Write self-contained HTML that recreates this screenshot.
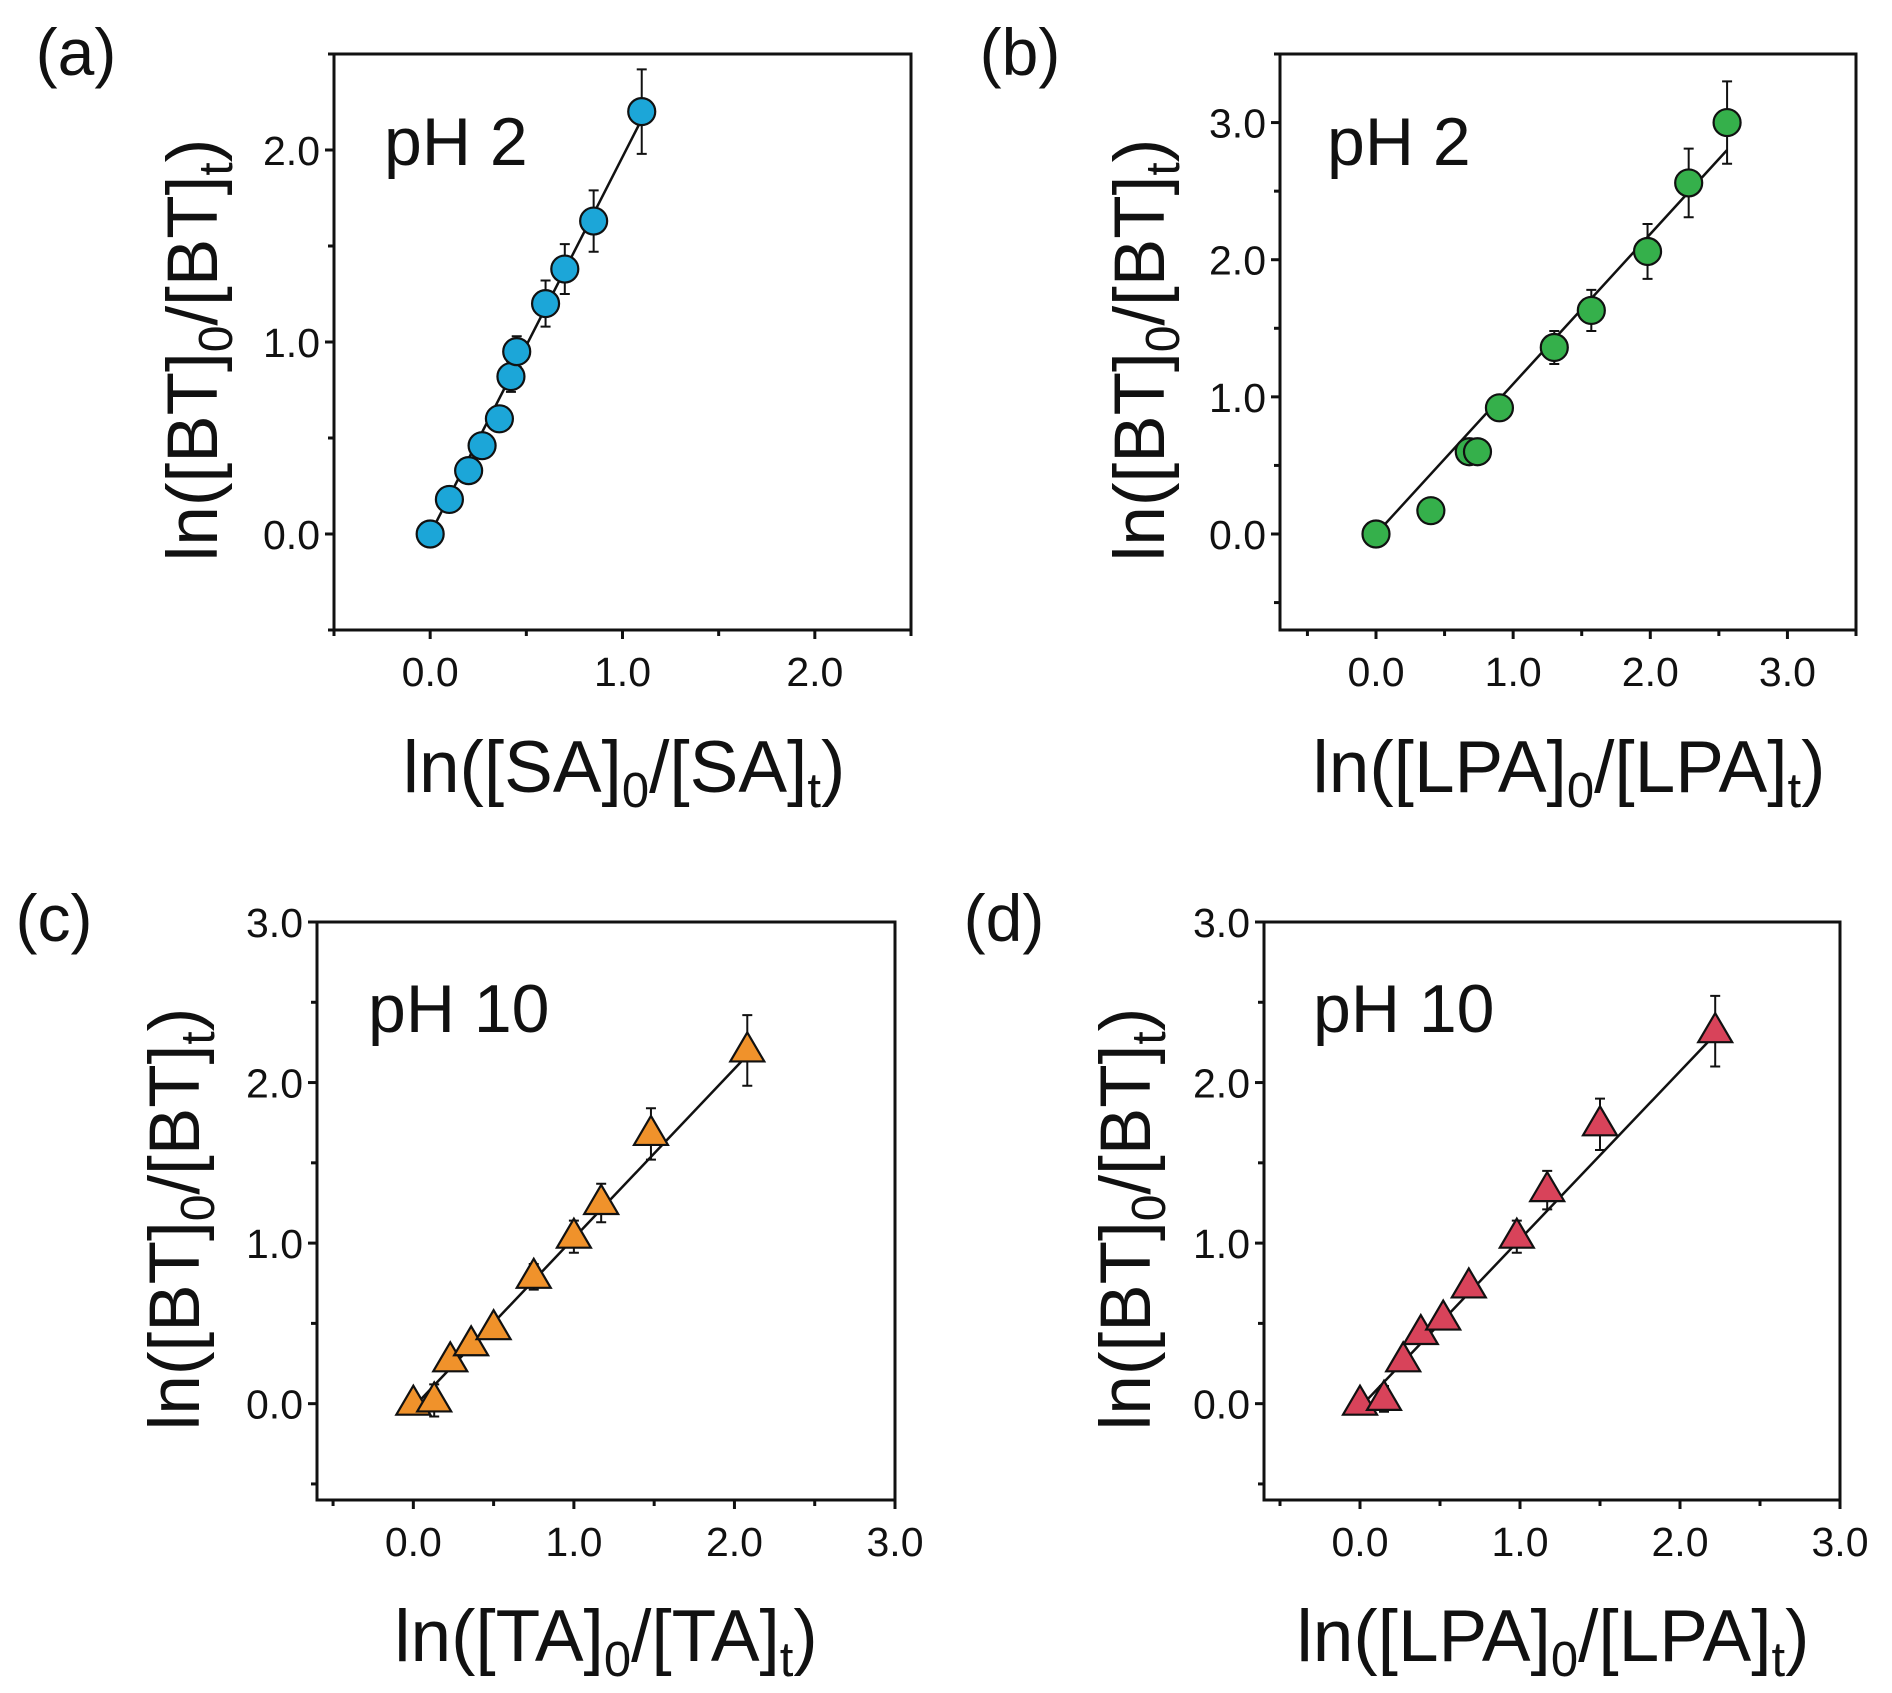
<!DOCTYPE html>
<html><head><meta charset="utf-8"><style>
html,body{margin:0;padding:0;background:#fff}
svg{display:block}
text{font-family:"Liberation Sans",sans-serif;fill:#111}
</style></head><body>
<svg id="fig" width="1892" height="1693" viewBox="0 0 1892 1693" xmlns="http://www.w3.org/2000/svg"></svg>
<script>
// Panel (a) data
const aX=[0,0.1,0.2,0.27,0.36,0.42,0.45,0.6,0.7,0.85,1.1];
const aY=[0,0.18,0.33,0.46,0.6,0.82,0.95,1.2,1.38,1.63,2.2];
const aE=[0.02,0.05,0.06,0.05,0.04,0.08,0.08,0.12,0.13,0.16,0.22];
const aFit=[0,1.1,0,2.16];
// Panel (b) data
const bX=[0,0.4,0.68,0.74,0.9,1.3,1.57,1.98,2.28,2.56];
const bY=[0,0.17,0.6,0.6,0.92,1.36,1.63,2.06,2.56,3.0];
const bE=[0.02,0.07,0.06,0.06,0.05,0.12,0.15,0.2,0.25,0.3];
const bFit=[0,2.56,0,2.8];
// Panel (c) data
const cX=[0,0.13,0.23,0.36,0.5,0.75,1.0,1.17,1.48,2.08];
const cY=[0,0.02,0.27,0.37,0.47,0.79,1.04,1.25,1.68,2.2];
const cE=[0.02,0.1,0.06,0.05,0.04,0.08,0.1,0.12,0.16,0.22];
const cFit=[0.05,2.08,0.03,2.17];
// Panel (d) data
const dX=[0,0.15,0.27,0.38,0.52,0.68,0.98,1.17,1.5,2.22];
const dY=[0,0.03,0.27,0.44,0.53,0.73,1.04,1.33,1.74,2.32];
const dE=[0.02,0.08,0.06,0.05,0.04,0.06,0.1,0.12,0.16,0.22];
const dFit=[0.05,2.22,0.03,2.3];
const ticksAB=[0,1,2];
const ticksB=[0,1,2,3];
const tickLabels=["0.0","1.0","2.0","3.0"];

const NS="http://www.w3.org/2000/svg";
const svg=document.getElementById('fig');
function mk(tag,attrs,parent){const e=document.createElementNS(NS,tag);for(const k in attrs)e.setAttribute(k,attrs[k]);(parent||svg).appendChild(e);return e;}

const panels=[
 {id:'a',L:334,R:911,T:54,B:630,x0:-0.5,x1:2.5,y0:-0.5,y1:2.5,xt:ticksAB,yt:ticksAB,X:aX,Y:aY,E:aE,fit:aFit,col:'#1ca6d8',mk:'circle',
  lbl:'(a)',lx:76,ly:75,ph:'pH 2',px:384,py:165,ytx:217,yty:350,xtx:624,xty:792,xa:'SA'},
 {id:'b',L:1280,R:1856,T:54,B:630,x0:-0.7,x1:3.5,y0:-0.7,y1:3.5,xt:ticksB,yt:ticksB,X:bX,Y:bY,E:bE,fit:bFit,col:'#35b04b',mk:'circle',
  lbl:'(b)',lx:1020,ly:75,ph:'pH 2',px:1327,py:165,ytx:1164,yty:350,xtx:1569,xty:792,xa:'LPA'},
 {id:'c',L:317,R:895,T:922,B:1500,x0:-0.6,x1:3.0,y0:-0.6,y1:3.0,xt:ticksB,yt:ticksB,X:cX,Y:cY,E:cE,fit:cFit,col:'#f0922b',mk:'tri',
  lbl:'(c)',lx:54,ly:941,ph:'pH 10',px:368,py:1032,ytx:199,yty:1219,xtx:606,xty:1661,xa:'TA'},
 {id:'d',L:1264,R:1840,T:922,B:1500,x0:-0.6,x1:3.0,y0:-0.6,y1:3.0,xt:ticksB,yt:ticksB,X:dX,Y:dY,E:dE,fit:dFit,col:'#d8435a',mk:'tri',
  lbl:'(d)',lx:1004,ly:941,ph:'pH 10',px:1313,py:1032,ytx:1150,yty:1219,xtx:1553,xty:1661,xa:'LPA'}
];

panels.forEach(p=>{
  const g=mk('g',{});
  
  
  const sx=v=>p.L+(v-p.x0)/(p.x1-p.x0)*(p.R-p.L);
  const sy=v=>p.B-(v-p.y0)/(p.y1-p.y0)*(p.B-p.T);
  const fr=mk('rect',{x:p.L,y:p.T,width:p.R-p.L,height:p.B-p.T,fill:'none',stroke:'#111','stroke-width':3},g);
  
  
  for(let v=Math.ceil(p.x0*2)/2;v<=p.x1+1e-9;v+=0.5){
    const maj=Math.abs(v-Math.round(v))<1e-9;
    const t=mk('line',{x1:sx(v),x2:sx(v),y1:p.B,y2:p.B+(maj?9:6),stroke:'#111','stroke-width':3},g);
    
    
  }
  for(let v=Math.ceil(p.y0*2)/2;v<=p.y1+1e-9;v+=0.5){
    const maj=Math.abs(v-Math.round(v))<1e-9;
    const t=mk('line',{y1:sy(v),y2:sy(v),x1:p.L,x2:p.L-(maj?9:6),stroke:'#111','stroke-width':3},g);
    
    
  }
  p.xt.forEach(v=>{
    const t=mk('text',{x:sx(v),y:p.B+56,'text-anchor':'middle','font-size':41},g);
    t.textContent=tickLabels[v];
    
    
  });
  p.yt.forEach(v=>{
    const t=mk('text',{x:p.L-14,y:sy(v)+15,'text-anchor':'end','font-size':41},g);
    t.textContent=tickLabels[v];
    
    
  });
  const fl=mk('line',{x1:sx(p.fit[0]),x2:sx(p.fit[1]),y1:sy(p.fit[2]),y2:sy(p.fit[3]),stroke:'#111','stroke-width':2.5},g);
  
  
  p.X.forEach((x,i)=>{
    const cx=sx(x),t=sy(p.Y[i]+p.E[i]),b=sy(p.Y[i]-p.E[i]);
    const e=mk('path',{d:`M${cx},${t}V${b}M${cx-5},${t}H${cx+5}M${cx-5},${b}H${cx+5}`,stroke:'#111','stroke-width':2,fill:'none'},g);
    
    
  });
  p.X.forEach((x,i)=>{
    const cx=sx(x),cy=sy(p.Y[i]);
    let m;
    if(p.mk==='circle') m=mk('circle',{cx:cx,cy:cy,r:13.5,fill:p.col,stroke:'#111','stroke-width':2.2},g);
    else m=mk('polygon',{points:`${cx},${cy-18} ${cx+17},${cy+11} ${cx-17},${cy+11}`,fill:p.col,stroke:'#111','stroke-width':2.2},g);
    
    
  });
  const lb=mk('text',{x:p.lx,y:p.ly,'text-anchor':'middle','font-size':66},g);
  lb.textContent=p.lbl;
  
  
  const ph=mk('text',{x:p.px,y:p.py,'font-size':68},g);
  ph.textContent=p.ph;
  
  
  const yt=mk('text',{x:0,y:0,'text-anchor':'middle','font-size':71,transform:`translate(${p.ytx},${p.yty}) rotate(-90)`},g);
  yt.innerHTML='ln([BT]<tspan dy="15" font-size="48">0</tspan><tspan dy="-15">/[BT]</tspan><tspan dy="15" font-size="48">t</tspan><tspan dy="-15">)</tspan>';
  
  
  const xt=mk('text',{x:p.xtx,y:p.xty,'text-anchor':'middle','font-size':73},g);
  xt.innerHTML=`ln([${p.xa}]<tspan dy="15" font-size="49">0</tspan><tspan dy="-15">/[${p.xa}]</tspan><tspan dy="15" font-size="49">t</tspan><tspan dy="-15">)</tspan>`;
  
  
});
</script>
</body></html>
